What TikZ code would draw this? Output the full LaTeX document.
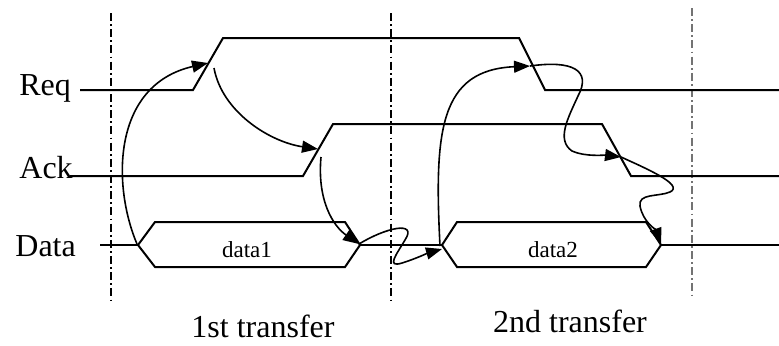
\documentclass[tikz,border=0pt]{standalone}
\usepackage{fontspec}
\setmainfont{Liberation Serif}
\usetikzlibrary{arrows.meta}
\tikzset{
    signal/.style={line width=1pt},
    handshake/.style={line width=0.8pt, -{Triangle[length=8pt,width=6pt]}},
    boundary/.style={line width=1.2pt, dash pattern=on 4pt off 1.6pt on 0.9pt off 1.6pt},
    signame/.style={anchor=base west, inner sep=0pt, font=\fontsize{16}{19}\selectfont},
    phase/.style={anchor=base, inner sep=0pt, font=\fontsize{16}{19}\selectfont},
    word/.style={inner sep=0pt, font=\fontsize{11.5}{13}\selectfont}
}
\begin{document}
\begin{tikzpicture}[x=0.5pt, y=-0.5pt]
            \useasboundingbox (0, 0) rectangle (779, 345);
            % transfer boundaries
            \draw[boundary] (111, 13) -- (111, 302);
            \draw[boundary] (391, 13) -- (391, 302);
            \draw[boundary, black!55] (692, 8) -- (692, 295);
            % signal names
            \node[signame] (req) at (19, 95) {Req};
            \node[signame] (ack) at (19, 178) {Ack};
            \node[signame] (data) at (15, 256) {Data};
            % waveforms
            \draw[signal] (80, 90) -- (193, 90) -- (223, 38) -- (519, 38) -- (545, 90) -- (779, 90);
            \draw[signal] (70, 176) -- (303, 176) -- (333, 124) -- (602, 124) -- (631, 176) -- (779, 176);
            \draw[signal] (100, 245) -- (138, 245);
            \draw[signal] (138, 245) -- (155, 222) -- (345, 222) -- (360, 245)
                -- (345, 267) -- (155, 267) -- cycle;
            \draw[signal] (360, 245) -- (442, 245);
            \draw[signal] (442, 245) -- (457, 222) -- (646, 222) -- (661, 245)
                -- (646, 267) -- (457, 267) -- cycle;
            \draw[signal] (661, 245) -- (779, 245);
            \node[word] (dataA) at (247, 250) {data1};
            \node[word] (dataB) at (553, 250) {data2};
            % event points
            \coordinate (dataStart) at (137, 244);
            \coordinate (reqRise) at (208, 63);
            \coordinate (reqRiseOut) at (214, 68);
            \coordinate (ackRise) at (318, 149);
            \coordinate (ackRiseOut) at (321, 157);
            \coordinate (dataEnd) at (359, 244);
            \coordinate (dataNext) at (442, 249);
            \coordinate (dataNextOut) at (440, 246);
            \coordinate (reqFall) at (530, 66);
            \coordinate (ackFall) at (621, 157);
            \coordinate (dataLast) at (661, 244);
            % handshake arrows
            \draw[handshake] (dataStart) .. controls (112, 185) and (112, 85) .. (reqRise);
            \draw[handshake] (reqRiseOut) .. controls (222, 112) and (270, 142) .. (ackRise);
            \draw[handshake] (ackRiseOut) .. controls (317, 200) and (333, 226) .. (dataEnd);
            \draw[handshake] (dataEnd) .. controls (385, 228) and (418, 220) .. (405, 240)
                .. controls (396, 255) and (386, 268) .. (402, 263)
                .. controls (415, 259) and (428, 253) .. (dataNext);
            \draw[handshake] (dataNextOut) .. controls (434, 130) and (440, 70) .. (reqFall);
            \draw[handshake] (reqFall) .. controls (572, 60) and (592, 70) .. (578, 96)
                .. controls (568, 118) and (556, 140) .. (572, 151)
                .. controls (585, 157) and (605, 155) .. (ackFall);
            \draw[handshake] (ackFall) .. controls (645, 168) and (685, 185) .. (670, 192)
                .. controls (658, 197) and (638, 193) .. (640, 206)
                .. controls (643, 222) and (656, 230) .. (dataLast);
            % transfer names
            \node[phase] (first) at (263, 337) {1st transfer};
            \node[phase] (second) at (570, 332) {2nd transfer};
        \end{tikzpicture}
\end{document}
